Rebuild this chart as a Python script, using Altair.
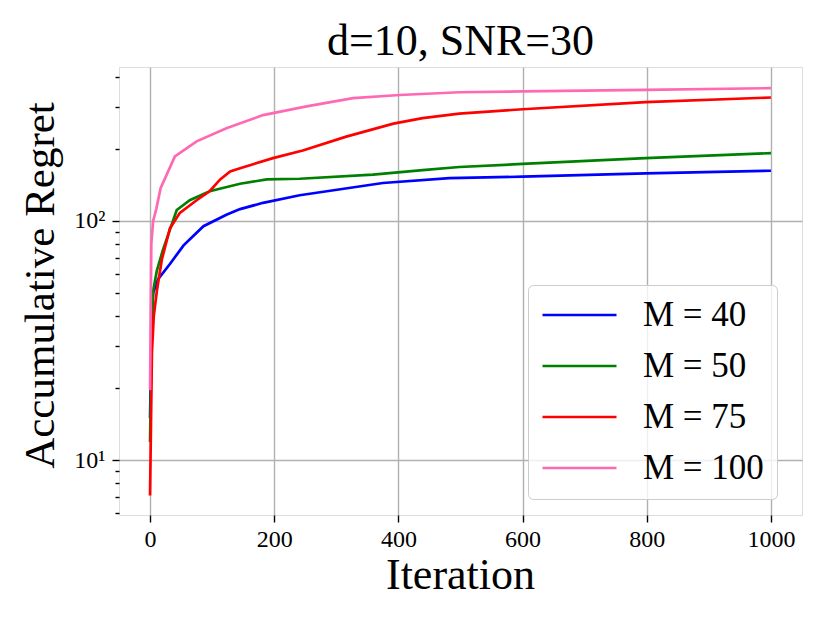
import altair as alt
import pandas as pd

labels = ["M = 40", "M = 50", "M = 75", "M = 100"]
colors = ["#0000ff", "#008000", "#ff0000", "#ff69b4"]

blue_x = [0, 3, 5, 13, 32, 54, 86, 123, 145, 182, 241, 375, 482, 600, 798, 1000]
blue_y = [15, 42, 50, 57, 66, 79, 95, 106, 112, 119, 128, 144, 151, 153, 158, 162]

green_x = [0, 3, 5, 11, 21, 43, 64, 96, 145, 188, 241, 359, 439, 498, 600, 798, 1000]
green_y = [11.9, 38, 51, 62, 76, 111, 122, 133, 143, 149, 150, 156, 163, 168, 173, 183, 192]

red_x = [0, 3, 6, 11, 19, 32, 48, 75, 96, 113, 129, 145, 198, 246, 316, 392, 439, 498, 600, 798, 1000]
red_y = [7.1, 28, 40, 51, 69, 93, 108, 122, 133, 149, 161, 166, 183, 197, 225, 255, 269, 281, 293, 314, 328]

pink_x = [0, 2, 5, 10, 17, 40, 75, 123, 182, 252, 327, 402, 498, 600, 798, 1000]
pink_y = [19.6, 80, 100, 112, 137, 186, 215, 244, 277, 301, 326, 336, 345, 348, 353, 359]

x_ticks = [0, 200, 400, 600, 800, 1000]
y_ticks = [6, 7, 8, 9, 10, 20, 30, 40, 50, 60, 70, 80, 90, 100, 200, 300, 400]

rows = []
for lab, xs, ys in zip(labels, [blue_x, green_x, red_x, pink_x], [blue_y, green_y, red_y, pink_y]):
    for x, y in zip(xs, ys):
        rows.append({"Iteration": x, "Regret": y, "M": lab})
df = pd.DataFrame(rows)

FONT = "Liberation Serif"
major = "datum.value == 10 || datum.value == 100"

chart = alt.Chart(df).mark_line(strokeWidth=2.7, clip=True).encode(
    x=alt.X(
        "Iteration:Q",
        scale=alt.Scale(domain=[-50, 1050], nice=False, zero=False),
        axis=alt.Axis(
            values=x_ticks, format="d", title="Iteration", grid=True, domain=False,
            tickSize=7, tickWidth=1.4, tickColor="black",
            labelPadding=5, labelFontSize=24, labelFont=FONT, labelColor="black",
            gridColor="#b0b0b0", gridWidth=1.4,
            titleFont=FONT, titleFontSize=44, titleFontWeight="normal", titleColor="black",
            titleX=341, titleY=73, titleBaseline="alphabetic", titleAlign="center",
        ),
    ),
    y=alt.Y(
        "Regret:Q",
        scale=alt.Scale(type="log", domain=[5.89, 440], nice=False),
        axis=alt.Axis(
            values=y_ticks, title="Accumulative Regret", grid=True, domain=False,
            labelExpr="datum.value == 10 ? '10¹' : (datum.value == 100 ? '10²' : '')",
            tickSize={"condition": {"test": major, "value": 7}, "value": 4},
            tickWidth=1.4, tickColor="black",
            gridOpacity={"condition": {"test": major, "value": 1}, "value": 0},
            gridColor="#b0b0b0", gridWidth=1.4,
            labelPadding=7, labelFontSize=24, labelFont=FONT, labelColor="black",
            titleFont=FONT, titleFontSize=43, titleFontWeight="normal", titleColor="black",
            titleX=-66, titleY=218, titleBaseline="alphabetic", titleAlign="center", titleAngle=270,
        ),
    ),
    color=alt.Color(
        "M:N",
        scale=alt.Scale(domain=labels, range=colors),
        legend=alt.Legend(
            title=None, orient="none", legendX=409, legendY=218,
            symbolType="stroke", symbolSize=5476, symbolStrokeWidth=2.7,
            clipHeight=34, rowPadding=16,
            labelFontSize=35, labelFont=FONT, labelColor="black", labelOffset=25, labelLimit=400,
            padding=13, cornerRadius=5, strokeColor="#cccccc",
            fillColor="rgba(255,255,255,0.8)",
        ),
    ),
).properties(
    width=683,
    height=448,
    title=alt.TitleParams(
        "d=10, SNR=30", font=FONT, fontSize=44, fontWeight="normal", color="black",
        offset=0, baseline="bottom", anchor="middle", frame="group", dy=41,
    ),
    autosize=alt.AutoSizeParams(type="none"),
    padding={"left": 111, "top": 59, "right": 20, "bottom": 100},
).configure_view(stroke="black", strokeWidth=1.4).configure_legend(strokeWidth=1.4).configure(background="white")

chart.save("out.html", embed_options={"renderer": "svg", "actions": False})
